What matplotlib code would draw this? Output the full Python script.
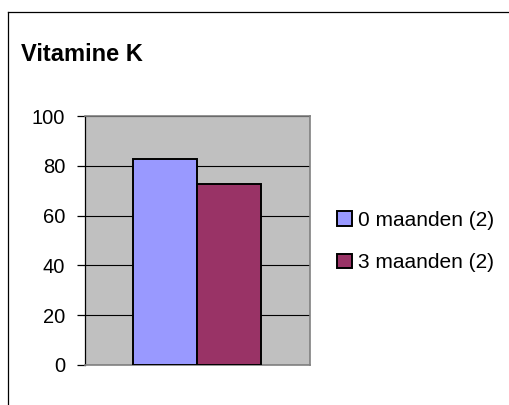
import matplotlib
matplotlib.use("Agg")
import matplotlib.pyplot as plt
from matplotlib.lines import Line2D

plt.rcParams['font.family'] = ['Liberation Sans', 'DejaVu Sans']

title = "Vitamine K"
series_labels = ["0 maanden (2)", "3 maanden (2)"]
values = [82.8, 72.5]
colors = ["#9999FF", "#993366"]
yticks = [0, 20, 40, 60, 80, 100]

W, H = 510, 405
fig = plt.figure(figsize=(W / 100, H / 100), dpi=100)
fig.patch.set_facecolor("white")

# outer chart border (left and top only visible)
fig.add_artist(Line2D([8.5 / W, 8.5 / W], [0, 1 - 11.5 / H], transform=fig.transFigure,
                      color="black", lw=0.9))
fig.add_artist(Line2D([8.5 / W, 1], [1 - 11.5 / H, 1 - 11.5 / H], transform=fig.transFigure,
                      color="black", lw=0.9))

ax = fig.add_axes([85 / W, 40 / H, 225 / W, 249 / H])
ax.set_facecolor("#C0C0C0")

bw = 1.0
offsets = [-0.5, 0.5]
for v, c, o, lab in zip(values, colors, offsets, series_labels):
    ax.bar(o * bw, v, width=bw, color=c, edgecolor="black", linewidth=1.4,
           label=lab, zorder=3)

ax.set_xlim(-225 / 128, 225 / 128)
ax.set_ylim(0, 100)
ax.set_yticks(yticks)
ax.set_yticklabels([str(t) for t in yticks])
ax.set_xticks([])
ax.yaxis.grid(True, color="black", linewidth=0.8, zorder=1)
ax.set_axisbelow(True)

for s in ["top", "right", "bottom"]:
    ax.spines[s].set_color("#808080")
    ax.spines[s].set_linewidth(1.2)
ax.spines["left"].set_color("black")
ax.spines["left"].set_linewidth(0.9)
ax.tick_params(axis="y", length=5.8, width=0.9, pad=8.4, labelsize=14.5, color="black")

fig.text(21 / W, 1 - 61 / H, title, fontsize=17, fontweight="bold",
         ha="left", va="baseline")

ax.legend(loc="center left", bbox_to_anchor=(337 / W, 1 - 241.5 / H),
          bbox_transform=fig.transFigure, frameon=False, fontsize=15,
          handlelength=0.72, handleheight=0.7, handletextpad=0.3,
          labelspacing=1.12, borderpad=0, borderaxespad=0)

fig.savefig("out.png", dpi=100)
